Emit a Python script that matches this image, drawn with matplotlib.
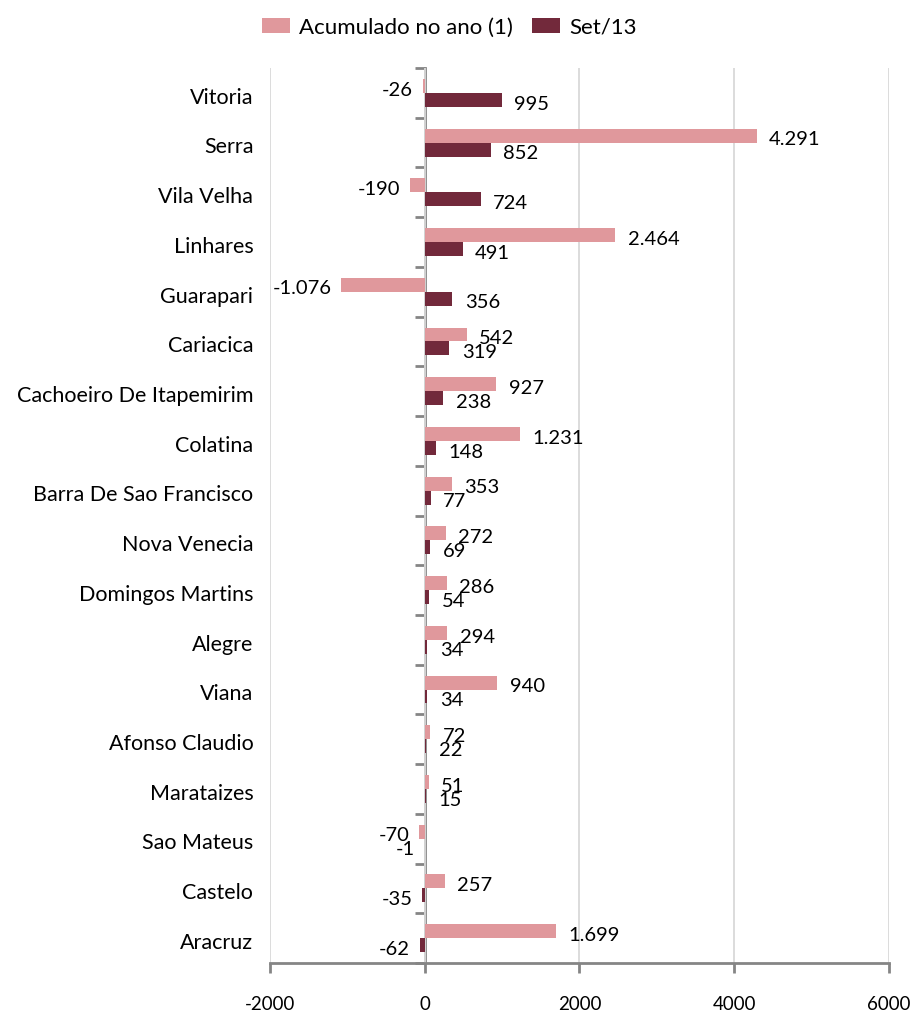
import numpy as np
import matplotlib
matplotlib.use("Agg")
import matplotlib.pyplot as plt
import matplotlib.transforms as mtransforms

plt.rcParams['font.family'] = ['Lato', 'DejaVu Sans']

# municipios, de cima para baixo
cidades = ["Vitoria", "Serra", "Vila Velha", "Linhares", "Guarapari", "Cariacica",
           "Cachoeiro De Itapemirim", "Colatina", "Barra De Sao Francisco",
           "Nova Venecia", "Domingos Martins", "Alegre", "Viana", "Afonso Claudio",
           "Marataizes", "Sao Mateus", "Castelo", "Aracruz"]
acumulado = [-26, 4291, -190, 2464, -1076, 542, 927, 1231, 353, 272, 286, 294,
             940, 72, 51, -70, 257, 1699]
set13 = [995, 852, 724, 491, 356, 319, 238, 148, 77, 69, 54, 34, 34, 22, 15,
         -1, -35, -62]
xticks = [-2000, 0, 2000, 4000, 6000]

COR_ACUM = '#E0989C'
COR_SET = '#72293B'
CINZA = '#858585'
FS_CAT = 15.5
FS_VAL = 14.5
FS_TICK = 13.5
FS_LEG = 16


def fmt(v):
    return "{:,}".format(v).replace(",", ".")


fig = plt.figure(figsize=(9.13, 10.17), dpi=100)
ax = fig.add_axes([0.2957, 0.0531, 0.6780, 0.8800])

y = np.arange(len(cidades))
h = 0.28
b1 = ax.barh(y - h / 2, acumulado, height=h, color=COR_ACUM, label='Acumulado no ano (1)', zorder=3)
b2 = ax.barh(y + h / 2, set13, height=h, color=COR_SET, label='Set/13', zorder=3)

# rotulos de valor
for bars, vals in ((b1, acumulado), (b2, set13)):
    for r, v in zip(bars, vals):
        yc = r.get_y() + r.get_height() / 2
        if v >= 0:
            ax.annotate(fmt(v), (v, yc), xytext=(9, -3), textcoords='offset points',
                        ha='left', va='center', fontsize=FS_VAL)
        else:
            ax.annotate(fmt(v), (v, yc), xytext=(-7, -3), textcoords='offset points',
                        ha='right', va='center', fontsize=FS_VAL)

ax.set_xlim(-2000, 6000)
ax.set_ylim(len(cidades) - 0.5, -0.5)
ax.set_xticks(xticks)
ax.set_xticklabels([str(t) for t in xticks], fontsize=FS_TICK)
ax.set_yticks(y)
ax.set_yticklabels(cidades, fontsize=FS_CAT)
ax.tick_params(axis='y', length=0, pad=12)
ax.tick_params(axis='x', length=7, width=2, color=CINZA, pad=17)
ax.xaxis.grid(True, color='#D9D9D9', lw=1.3, zorder=0)
desloc = mtransforms.ScaledTranslation(0, -2 / 72, fig.dpi_scale_trans)
for lab in ax.get_yticklabels():
    lab.set_transform(lab.get_transform() + desloc)

for s in ['top', 'right', 'left']:
    ax.spines[s].set_visible(False)
ax.spines['bottom'].set_color(CINZA)
ax.spines['bottom'].set_linewidth(2)

# eixo do zero com marcas entre categorias
sec = ax.secondary_yaxis(0.25)
sec.set_yticks(np.arange(-0.5, len(cidades), 1))
sec.tick_params(length=7, width=2, color=CINZA, labelleft=False)
sec.spines['left'].set_color(CINZA)
sec.spines['left'].set_linewidth(2)

fig.legend(loc='center', bbox_to_anchor=(0.492, 0.973), ncol=2, frameon=False,
           fontsize=FS_LEG, handlelength=1.25, handleheight=0.7, columnspacing=0.9,
           handletextpad=0.4)

fig.savefig('out.png', dpi=100)
